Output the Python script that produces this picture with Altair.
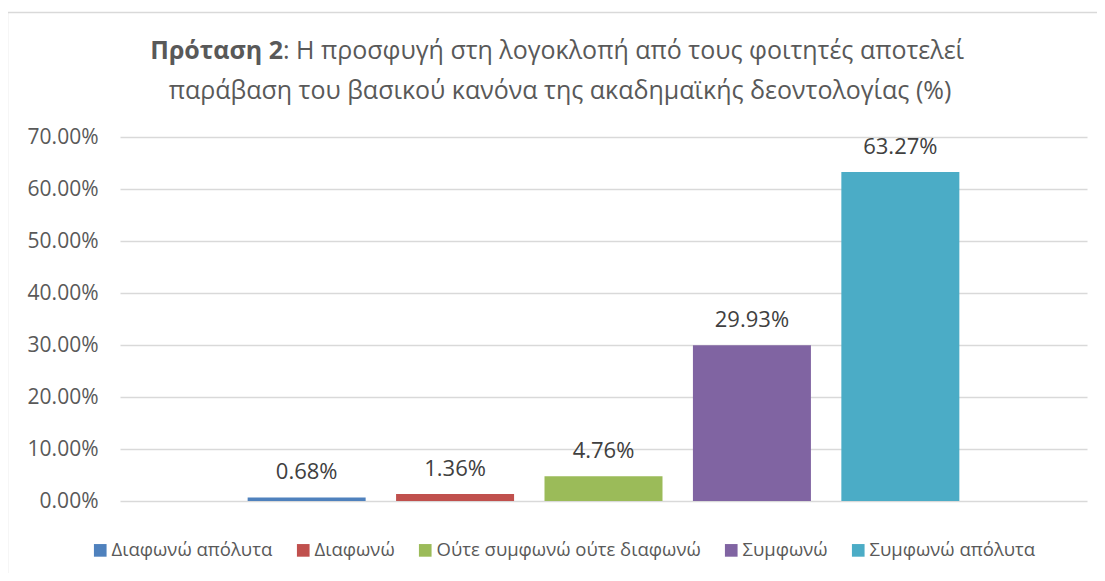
import altair as alt
import pandas as pd

categories = ["Διαφωνώ απόλυτα", "Διαφωνώ", "Ούτε συμφωνώ ούτε διαφωνώ", "Συμφωνώ", "Συμφωνώ απόλυτα"]
values = [0.0068, 0.0136, 0.0476, 0.2993, 0.6327]
colors = ["#4F81BD", "#C0504D", "#9BBB59", "#8064A2", "#4BACC6"]
y_ticks = [0.0, 0.1, 0.2, 0.3, 0.4, 0.5, 0.6, 0.7]
title_bold = "Πρόταση 2"
title_rest = ": Η προσφυγή στη λογοκλοπή από τους φοιτητές αποτελεί"
title_line2 = "παράβαση του βασικού κανόνα της ακαδημαϊκής δεοντολογίας (%)"

FONT = "Open Sans"
TXT = "#595959"

df = pd.DataFrame({"cat": categories, "val": values})

xenc = alt.X("cat:N", sort=categories, axis=None,
             scale=alt.Scale(paddingInner=0.205, paddingOuter=0.86))
yenc = alt.Y("val:Q", scale=alt.Scale(domain=[0, 0.7], nice=False),
             axis=alt.Axis(values=y_ticks, format=".2%", title=None, ticks=False,
                           domain=False, labelFontSize=21, labelFont=FONT,
                           labelColor=TXT, labelPadding=22, gridColor="#D9D9D9",
                           gridWidth=1.3))

bars = alt.Chart(df).mark_bar().encode(
    x=xenc, y=yenc,
    color=alt.Color("cat:N", sort=categories,
                    scale=alt.Scale(domain=categories, range=colors),
                    legend=alt.Legend(orient="none", legendX=-29, legendY=404,
                                      direction="horizontal", title=None,
                                      symbolType="square", symbolSize=160,
                                      symbolStrokeWidth=0, labelLimit=500,
                                      labelFontSize=18.5, labelFont=FONT,
                                      labelColor=TXT, labelOffset=2,
                                      columnPadding=21, columns=5)),
)

labels = alt.Chart(df).mark_text(baseline="alphabetic", dy=-18, fontSize=22,
                                 font=FONT, color="#404040").encode(
    x=xenc, y=yenc, text=alt.Text("val:Q", format=".2%"))

tdf = pd.DataFrame({"b": [title_bold], "r": [title_rest], "l2": [title_line2]})
t_bold = alt.Chart(tdf).mark_text(align="right", baseline="middle", fontSize=25,
                                  font=FONT, fontWeight="bold", color=TXT).encode(
    text="b:N", x=alt.value(163), y=alt.value(-86))
t_rest = alt.Chart(tdf).mark_text(align="left", baseline="middle", fontSize=25,
                                  font=FONT, color=TXT).encode(
    text="r:N", x=alt.value(163), y=alt.value(-86))
t_l2 = alt.Chart(tdf).mark_text(align="center", baseline="middle", fontSize=25,
                                font=FONT, color=TXT).encode(
    text="l2:N", x=alt.value(440), y=alt.value(-46))

border = alt.Chart(tdf).mark_rect(fill=None, stroke="#D9D9D9", strokeWidth=1.5).encode(
    x=alt.value(-112.5), x2=alt.value(1000), y=alt.value(-124.5), y2=alt.value(600))

chart = alt.layer(border, bars, labels, t_bold, t_rest, t_l2).properties(
    width=967, height=364,
    autosize=alt.AutoSizeParams(type="none"),
    padding={"left": 112, "top": 129, "right": 10, "bottom": 72},
).configure_view(stroke=None)

chart.save("out.html", embed_options={"renderer": "svg", "actions": False})
